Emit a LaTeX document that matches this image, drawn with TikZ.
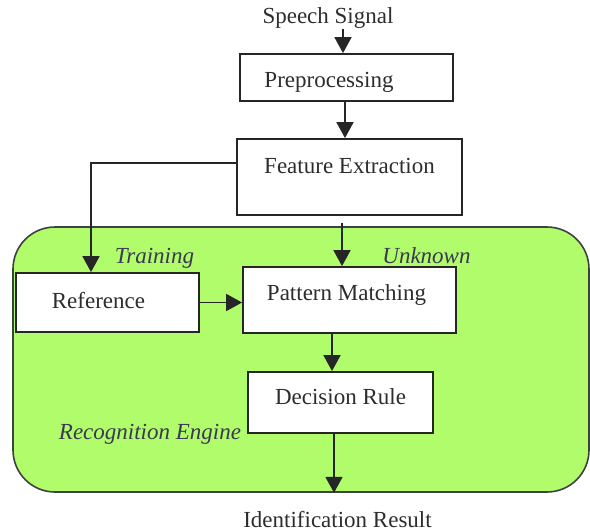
\documentclass[tikz,border=0pt]{standalone}
\usepackage{fontspec}
\setmainfont{Liberation Serif}
\usetikzlibrary{positioning, arrows.meta}
\definecolor{enginegreen}{RGB}{176,252,106}
\definecolor{boxtext}{RGB}{45,45,45}
\definecolor{labeltext}{RGB}{58,56,82}

\begin{document}
\begin{tikzpicture}[x=0.5pt, y=-0.5pt,
        block/.style={draw=black!85, line width=0.9pt, fill=white, inner sep=0pt, text=boxtext, font=\fontsize{11.5}{14}\selectfont},
        plain/.style={inner sep=0pt, text=boxtext, font=\fontsize{11.5}{14}\selectfont},
        tag/.style={inner sep=0pt, text=labeltext, font=\fontsize{11.5}{14}\selectfont\itshape},
        flow/.style={draw=black!85, line width=0.9pt, -{Triangle[length=8pt,width=8.5pt]}}]

            \useasboundingbox (0,0) rectangle (590,531);

            % recognition engine area
            \node[draw=black!75, line width=0.8pt, fill=enginegreen, rounded corners=21pt, minimum width=288pt, minimum height=132.5pt, inner sep=0pt] (engine) at (301,359.5) {};

            \node[plain] (sig) at (328,18) {Speech Signal};
            \node[block, minimum width=106.5pt, text height=16.75pt, text depth=6.75pt] (pre) at (346.5,77.5) {Preprocessing\hspace*{17.5pt}};
            \node[block, minimum width=112.5pt, text height=17.25pt, text depth=20.75pt] (feat) at (349.5,177) {Feature Extraction};
            \node[block, minimum width=91.5pt, text height=17.75pt, text depth=11.75pt] (ref) at (107.5,302.5) {Reference\hspace*{9pt}};
            \node[block, minimum width=106.5pt, text height=16.75pt, text depth=16.25pt] (pat) at (349.5,300) {Pattern Matching\hspace*{3pt}};
            \node[block, minimum width=92.5pt, text height=16.25pt, text depth=14.25pt] (dec) at (340.5,402.5) {Decision Rule};
            \node[plain] (res) at (337.5,520) {Identification Result};

            \node[tag] (train) at (154.5,258) {Training};
            \node[tag] (unk) at (426.5,256) {Unknown};
            \node[tag] (eng) at (150,434) {Recognition Engine};

            % Draw edges
            \draw[flow] ([xshift=7.5pt]sig.south) -- ([xshift=7.5pt]sig.south |- pre.north);
            \draw[flow] ([xshift=-0.75pt]pre.south) -- ([xshift=-0.75pt]pre.south |- feat.north);
            \draw[flow] ([xshift=-3.75pt,yshift=-3.5pt]feat.south) -- ([xshift=-3.75pt]feat.south |- pat.north);
            \draw[flow] ([yshift=7pt]feat.west) -| ([xshift=-8.25pt]ref.north);
            \draw[flow] (ref.east) -- (ref.east -| pat.west);
            \draw[flow] ([xshift=-8.75pt]pat.south) -- ([xshift=-8.75pt]pat.south |- dec.north);
            \draw[flow] ([xshift=-3.25pt]dec.south) -- ([xshift=-3.25pt]dec.south |- engine.south);

\end{tikzpicture}
\end{document}
